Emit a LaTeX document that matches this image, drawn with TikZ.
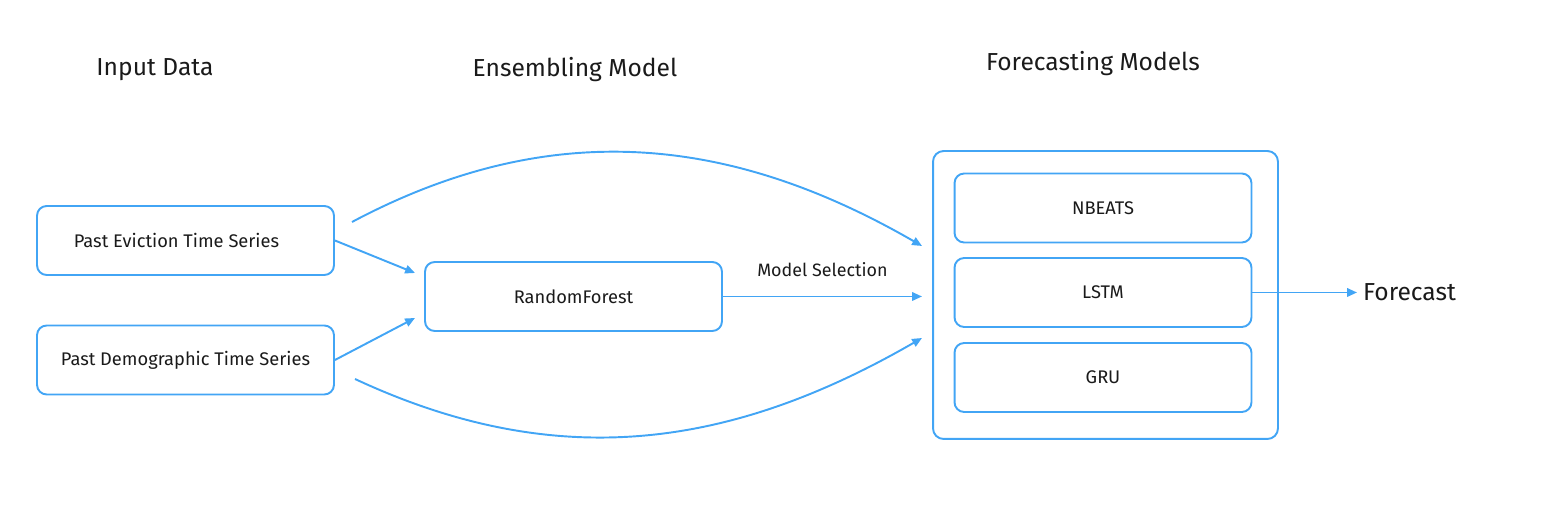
\documentclass[tikz,border=0pt]{standalone}
\usepackage{fontspec}
\setmainfont{Fira Sans}
\usetikzlibrary{arrows.meta}
\definecolor{lineblue}{RGB}{66,165,245}
\definecolor{txt}{RGB}{26,26,26}
\tikzset{
    box/.style={draw=lineblue, line width=1.1pt, rounded corners=5.5pt, minimum width=5.94cm, minimum height=1.38cm, text=txt, font=\fontsize{10.4}{12}\selectfont},
    title/.style={text=txt, font=\fontsize{14}{16}\selectfont},
    conn/.style={draw=lineblue, line width=1.1pt, -{Triangle[length=5.6pt, width=4.8pt]}}
}
\begin{document}
\begin{tikzpicture}[x=0.02cm, y=0.02cm]
    \useasboundingbox (0,0) rectangle (1560,526);
    % titles
    \node[title] (tin) at (155,456) {Input Data};
    \node[title] (tens) at (575,456) {Ensembling Model};
    \node[title] (tfor) at (1093,462) {Forecasting Models};
    % input boxes
    \node[box] (ev) at (185.5,285.5) {Past Eviction Time Series\rule{0.36cm}{0pt}};
    \node[box] (dem) at (185.5,166) {Past Demographic Time Series};
    \node[box] (rf) at (573.5,229.5) {RandomForest};
    % forecasting models
    \node[box, minimum width=6.9cm, minimum height=5.76cm, rounded corners=6pt] (models) at (1105.5,231) {};
    \node[box] (nb) at (1103,318) {NBEATS};
    \node[box] (lstm) at (1103,233.5) {LSTM};
    \node[box] (gru) at (1103,148.5) {GRU};
    \node[title, anchor=west] (fc) at (1357,233.5) {Forecast};
    % free ends
    \coordinate (rfa) at (415,253);
    \coordinate (rfb) at (415,208);
    \coordinate (ma) at (922,280);
    \coordinate (mb) at (922,229.5);
    \coordinate (mc) at (922,188);
    \coordinate (evs) at (352,304);
    \coordinate (dems) at (355,147);
    % connectors
    \draw[conn] (ev.east) -- (rfa);
    \draw[conn] (dem.east) -- (rfb);
    \draw[conn] (rf.east) -- (mb) node[midway, above=7.5pt, title, font=\fontsize{10.2}{12}\selectfont] (sel) {Model Selection};
    \draw[conn] (evs) to[out=28, in=150] (ma);
    \draw[conn] (dems) to[out=-25, in=210] (mc);
    \draw[conn] (lstm.east) -- (fc.west);
\end{tikzpicture}
\end{document}
